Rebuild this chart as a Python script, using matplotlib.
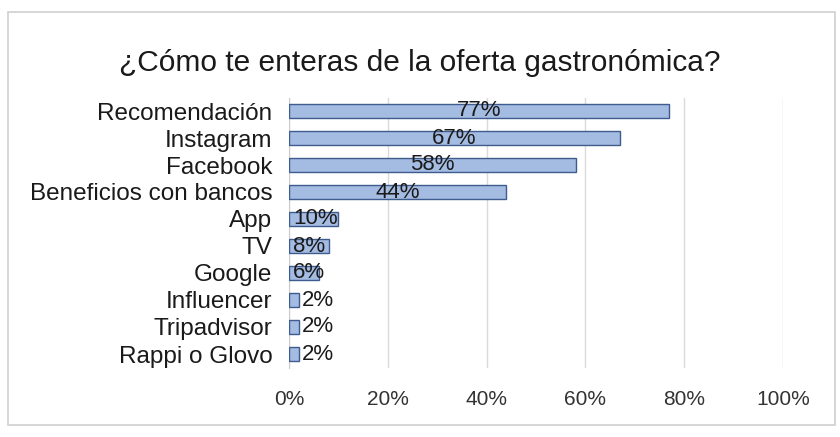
import matplotlib
matplotlib.use("Agg")
import matplotlib.pyplot as plt
from matplotlib.patches import Rectangle

plt.rcParams["font.family"] = ["Liberation Sans", "DejaVu Sans"]

CATEGORIES = ["Recomendación", "Instagram", "Facebook", "Beneficios con bancos",
              "App", "TV", "Google", "Influencer", "Tripadvisor", "Rappi o Glovo"]
VALUES = [77, 67, 58, 44, 10, 8, 6, 2, 2, 2]
TICKS = [0, 20, 40, 60, 80, 100]
TITLE = "¿Cómo te enteras de la oferta gastronómica?"

fig = plt.figure(figsize=(8.4, 4.37), dpi=100)
fig.patches.append(Rectangle((8 / 840, 1 - 425 / 437), 827 / 840, 413 / 437,
                             transform=fig.transFigure, fill=False,
                             edgecolor="#D0D0D0", linewidth=1.2))

ax = fig.add_axes([289 / 840, 1 - 367.5 / 437, 494 / 840, 270 / 437])
y = list(range(len(CATEGORIES)))
ax.barh(y, VALUES, height=0.5, color="#A4BBE2", edgecolor="#3F5C8E",
        linewidth=1.0, zorder=3)

for yi, v in zip(y, VALUES):
    if v >= 20:
        ax.text(v / 2, yi, f"{v}%", ha="center", va="center",
                fontsize=16, color="#1a1a1a", zorder=4)
    else:
        x = 0.8 if v >= 5 else v + 0.6
        ax.text(x, yi, f"{v}%", ha="left", va="center",
                fontsize=16, color="#1a1a1a", zorder=4)

ax.set_xlim(0, 100)
ax.set_ylim(len(CATEGORIES) - 0.5, -0.5)
ax.set_xticks(TICKS)
ax.set_xticklabels([f"{t}%" for t in TICKS], fontsize=15, color="#333333")
ax.set_yticks(y)
ax.set_yticklabels(CATEGORIES, fontsize=17.5, color="#1a1a1a")
ax.tick_params(length=0, pad=12)
ax.tick_params(axis="x", pad=16)
ax.grid(axis="x", color="#DADADA", linewidth=1, zorder=0)
for s in ["top", "right", "bottom"]:
    ax.spines[s].set_visible(False)
ax.spines["left"].set_color("#CCCCCC")

fig.text(420 / 840, 1 - 63 / 437, TITLE, ha="center", va="center",
         fontsize=21.5, color="#1a1a1a")

fig.savefig("out.png", dpi=100)
